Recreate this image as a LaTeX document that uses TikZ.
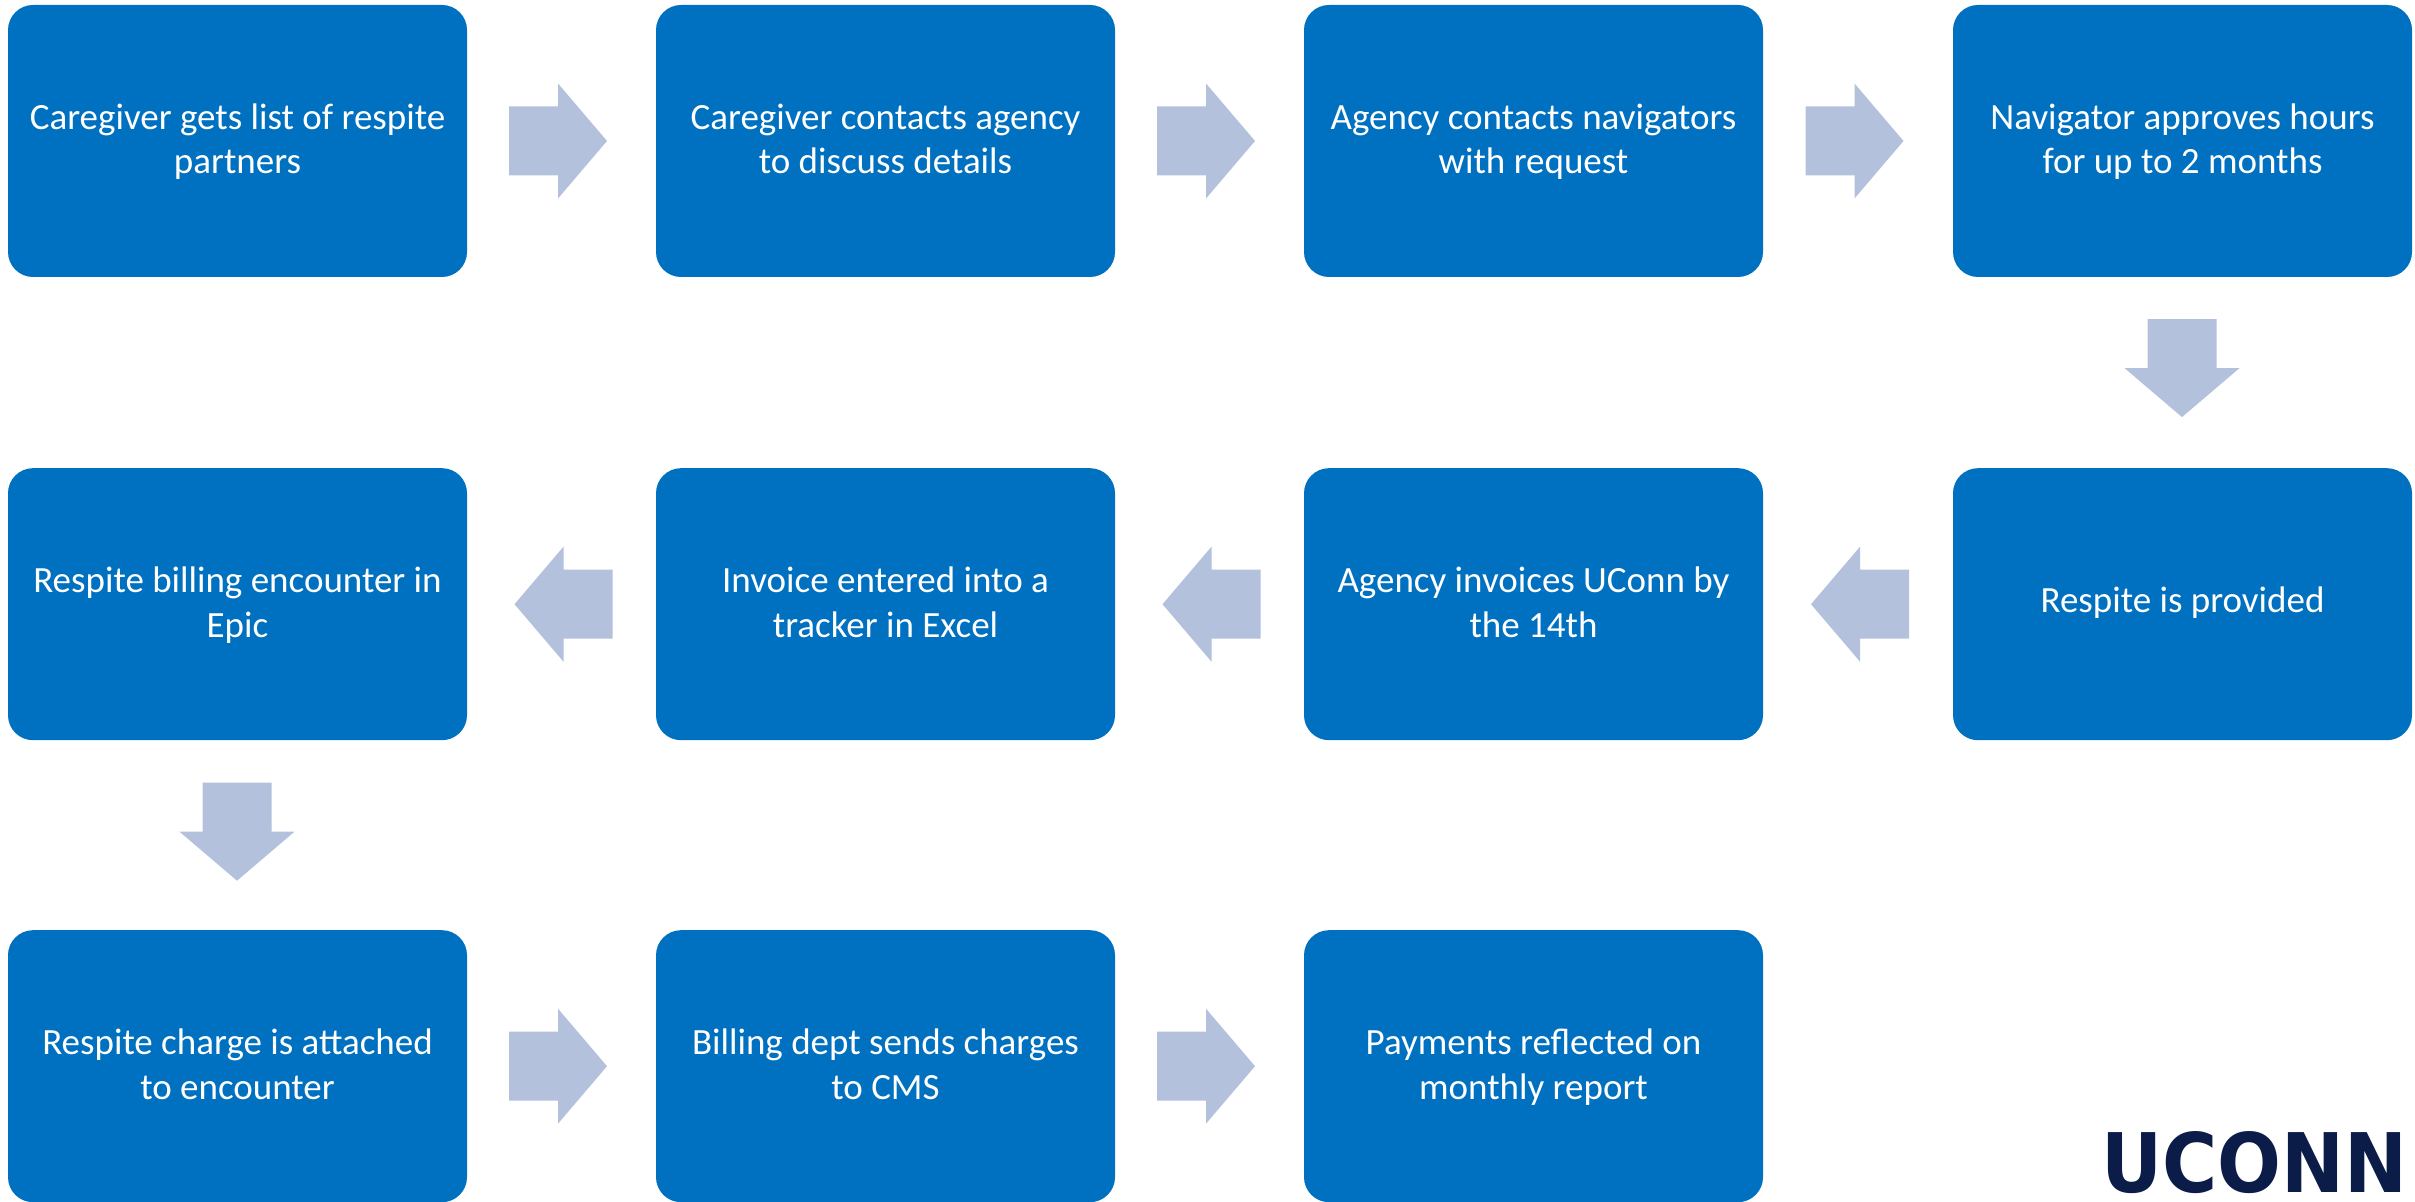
\documentclass[tikz,border=0pt]{standalone}
\usepackage{fontspec}
\usepackage{graphicx}
\setmainfont{Carlito}
\newfontfamily\logofont{DejaVu Sans}
\usetikzlibrary{calc}
\definecolor{boxblue}{RGB}{0,112,192}
\definecolor{arrowblue}{RGB}{179,193,220}
\definecolor{logonavy}{RGB}{12,28,72}
\newcommand{\firstline}{\rule{0pt}{34.5pt}}
\newcommand{\lastline}{\rule[-13.4pt]{0pt}{13.4pt}}
\tikzset{
  x=1pt,y=1pt,
  stepbox/.style={fill=boxblue,draw=none,rounded corners=25pt,minimum width=459pt,minimum height=272pt,
    inner sep=0pt,text=white,align=center,font=\fontsize{37}{44.7}\selectfont},
  blockarrow/.pic={\fill[arrowblue] (-49,-34.5)--(0,-34.5)--(0,-57.5)--(49,0)--(0,57.5)--(0,34.5)--(-49,34.5)--cycle;}
}
\begin{document}
\begin{tikzpicture}
\useasboundingbox (0,0) rectangle (2415,1202);
\node[stepbox] (a1) at (237.5,1061) {\firstline Caregiver gets list of respite\\partners\lastline};
\node[stepbox] (a2) at (885.5,1061) {\firstline Caregiver contacts agency\\to discuss details\lastline};
\node[stepbox] (a3) at (1533.5,1061) {\firstline Agency contacts navigators\\with request\lastline};
\node[stepbox] (a4) at (2182.5,1061) {\firstline Navigator approves hours\\for up to 2 months\lastline};
\node[stepbox] (b4) at (2182.5,597.8) {\raisebox{-8.5pt}[0pt][0pt]{Respite is provided}};
\node[stepbox] (b3) at (1533.5,597.8) {\firstline Agency invoices UConn by\\the 14th\lastline};
\node[stepbox] (b2) at (885.5,597.8) {\firstline Invoice entered into a\\tracker in Excel\lastline};
\node[stepbox] (b1) at (237.5,597.8) {\firstline Respite billing encounter in\\Epic\lastline};
\node[stepbox] (c1) at (237.5,135.8) {\firstline Respite charge is attached\\to encounter\lastline};
\node[stepbox] (c2) at (885.5,135.8) {\firstline Billing dept sends charges\\to CMS\lastline};
\node[stepbox] (c3) at (1533.5,135.8) {\firstline Payments reflected on\\monthly report\lastline};
\pic at ($(a1.east)!.5!(a2.west)+(-3.5,0)$) {blockarrow};
\pic at ($(a2.east)!.5!(a3.west)+(-3.5,0)$) {blockarrow};
\pic at ($(a3.east)!.5!(a4.west)+(-3.5,0)$) {blockarrow};
\pic[rotate=-90] at ($(a4.south)!.5!(b4.north)+(-.5,4.5)$) {blockarrow};
\pic[rotate=180] at ($(b4.west)!.5!(b3.east)+(2,0)$) {blockarrow};
\pic[rotate=180] at ($(b3.west)!.5!(b2.east)+(2,0)$) {blockarrow};
\pic[rotate=180] at ($(b2.west)!.5!(b1.east)+(2,0)$) {blockarrow};
\pic[rotate=-90] at ($(b1.south)!.5!(c1.north)+(-.5,3.5)$) {blockarrow};
\pic at ($(c1.east)!.5!(c2.west)+(-3.5,0)$) {blockarrow};
\pic at ($(c2.east)!.5!(c3.west)+(-3.5,0)$) {blockarrow};
\node[inner sep=0pt,text=logonavy] (logo) at (2254.5,39)
  {\resizebox{306pt}{61pt}{\logofont\bfseries UCONN}};
\end{tikzpicture}
\end{document}
